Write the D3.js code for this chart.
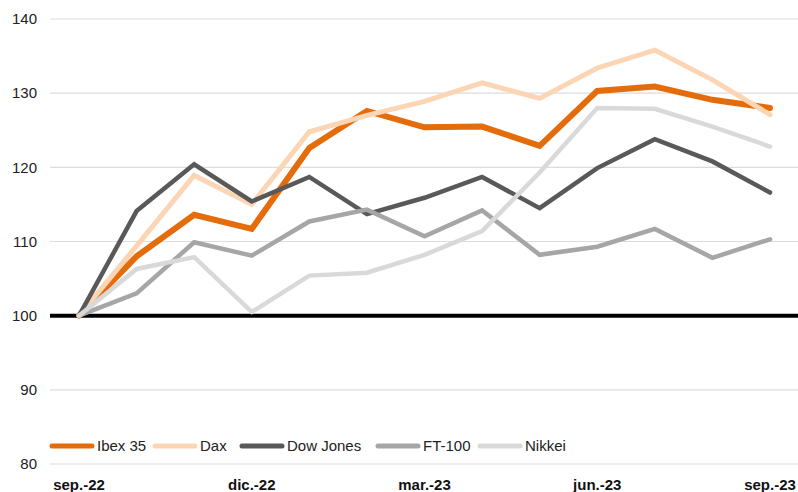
<!DOCTYPE html>
<html>
<head>
<meta charset="utf-8">
<script src="https://cdn.jsdelivr.net/npm/d3@7"></script>
<style>
  body { margin: 0; background: #fff; }
  svg { display: block; font-family: "Liberation Sans", Arial, sans-serif; }
</style>
</head>
<body>
<svg id="chart"></svg>
<script>
// months sep.-22 .. sep.-23
const months = ['sep.-22', 'oct.-22', 'nov.-22', 'dic.-22', 'ene.-23', 'feb.-23', 'mar.-23',
  'abr.-23', 'may.-23', 'jun.-23', 'jul.-23', 'ago.-23', 'sep.-23'];
const tickLabels = ['sep.-22', 'dic.-22', 'mar.-23', 'jun.-23', 'sep.-23'];
const yTicks = [80, 90, 100, 110, 120, 130, 140];

const ibex = [100, 108.0, 113.6, 111.7, 122.6, 127.6, 125.4, 125.5, 122.9, 130.3, 130.9, 129.1, 128.0];
const dax = [100, 109.4, 118.9, 115.0, 124.8, 127.0, 128.9, 131.4, 129.3, 133.4, 135.8, 131.8, 127.1];
const dowJones = [100, 114.1, 120.4, 115.4, 118.7, 113.7, 115.9, 118.7, 114.5, 119.9, 123.8, 120.8, 116.6];
const ft100 = [100, 103.0, 109.9, 108.1, 112.7, 114.3, 110.7, 114.2, 108.2, 109.3, 111.7, 107.8, 110.3];
const nikkei = [100, 106.3, 107.9, 100.5, 105.4, 105.8, 108.2, 111.4, 119.3, 128.0, 127.9, 125.5, 122.8];

const seriesNames = ['Ibex 35', 'Dax', 'Dow Jones', 'FT-100', 'Nikkei'];
const seriesValues = [ibex, dax, dowJones, ft100, nikkei];
const colors = ['#e46c0a', '#fcd5b5', '#595959', '#a6a6a6', '#d9d9d9'];
const widths = [6, 5, 4.5, 4.5, 4.5];

const width = 798, height = 492;
const svg = d3.select('#chart').attr('width', width).attr('height', height);

const x = d3.scalePoint().domain(months).range([79, 770]);
const y = d3.scaleLinear().domain([80, 140]).range([464, 19]);

// gridlines
svg.append('g')
  .selectAll('line')
  .data(yTicks)
  .enter()
  .append('line')
  .attr('x1', 50).attr('x2', width)
  .attr('y1', d => y(d)).attr('y2', d => y(d))
  .attr('stroke', '#dcdcdc')
  .attr('stroke-width', 1.2);

// y labels
svg.append('g')
  .selectAll('text')
  .data(yTicks)
  .enter()
  .append('text')
  .attr('x', 37)
  .attr('y', d => y(d))
  .attr('dy', '0.35em')
  .attr('text-anchor', 'end')
  .style('font-size', '15px')
  .style('fill', '#222')
  .text(d => d);

// baseline at 100
svg.append('line')
  .attr('x1', 50).attr('x2', width)
  .attr('y1', y(100)).attr('y2', y(100))
  .attr('stroke', '#000')
  .attr('stroke-width', 4);

// x labels
svg.append('g')
  .selectAll('text')
  .data(tickLabels)
  .enter()
  .append('text')
  .attr('x', d => x(d))
  .attr('y', 490)
  .attr('text-anchor', 'middle')
  .style('font-size', '15px')
  .style('font-weight', 'bold')
  .style('fill', '#111')
  .text(d => d);

const line = d3.line()
  .x((d, i) => x(months[i]))
  .y(d => y(d));

svg.append('g')
  .selectAll('path')
  .data(seriesValues)
  .enter()
  .append('path')
  .attr('d', line)
  .attr('fill', 'none')
  .attr('stroke', (d, i) => colors[i])
  .attr('stroke-width', (d, i) => widths[i])
  .attr('stroke-linecap', 'round')
  .attr('stroke-linejoin', 'miter');

// legend
const legendX = [50, 153, 240, 376, 478];
const legend = svg.append('g')
  .selectAll('g')
  .data(seriesNames)
  .enter()
  .append('g')
  .attr('transform', (d, i) => `translate(${legendX[i]}, 446)`);

legend.append('line')
  .attr('x1', 2).attr('x2', 42)
  .attr('y1', 0).attr('y2', 0)
  .attr('stroke', (d, i) => colors[i])
  .attr('stroke-width', 5)
  .attr('stroke-linecap', 'round');

legend.append('text')
  .attr('x', 47)
  .attr('y', 0)
  .attr('dy', '0.35em')
  .style('font-size', '15px')
  .style('fill', '#222')
  .text(d => d);
</script>
</body>
</html>
